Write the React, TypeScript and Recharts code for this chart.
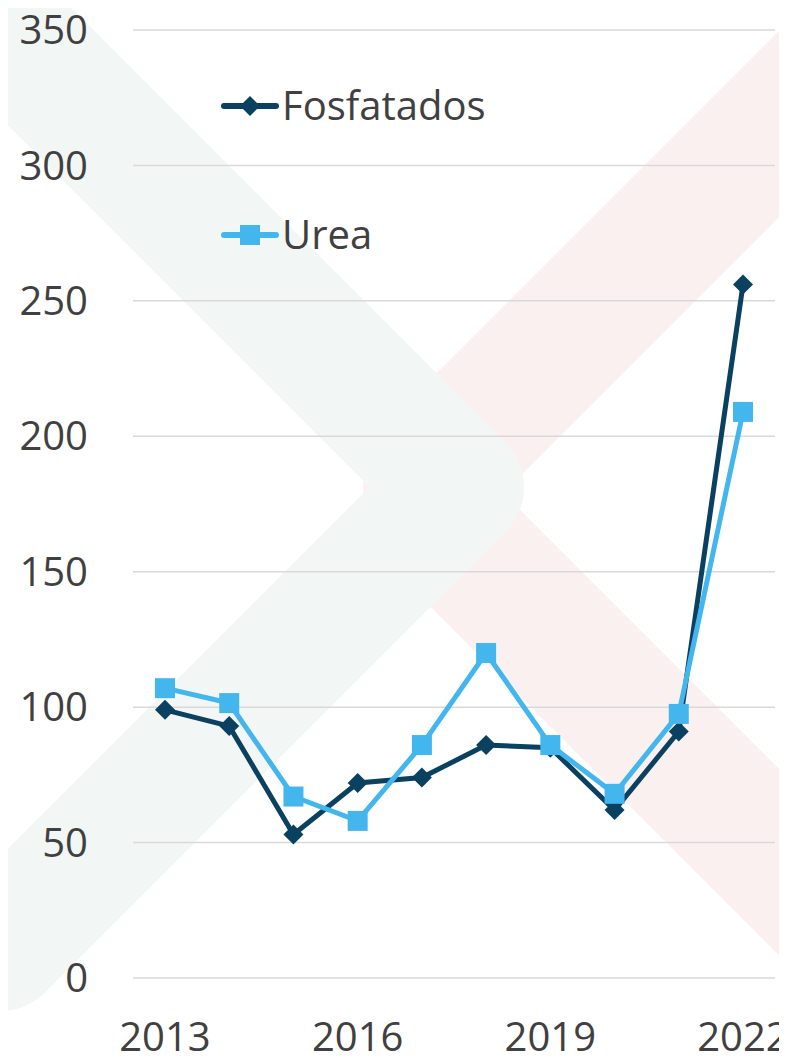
import { CartesianGrid, Legend, Line, LineChart, XAxis, YAxis } from 'recharts';

const years = ['2013', '2014', '2015', '2016', '2017', '2018', '2019', '2020', '2021', '2022'];
const fosfatados = [99, 93, 53, 72, 74, 86, 85, 62, 91, 256];
const urea = [107, 101.5, 67, 58, 86, 120, 86, 68, 97.5, 209];
const yTicks = [0, 50, 100, 150, 200, 250, 300, 350];

const data = years.map((year, i) => ({ year, fosfatados: fosfatados[i], urea: urea[i] }));

const COLORS = {
  fosfatados: '#0a4060',
  urea: '#43b6ee',
  text: '#404040',
  grid: '#d9d9d9',
};

const FONT = '"Open Sans", "Noto Sans", sans-serif';

const Diamond = ({ cx, cy, fill, size = 10 }: any) => (
  <path
    d={`M${cx},${cy - size} L${cx + size},${cy} L${cx},${cy + size} L${cx - size},${cy} Z`}
    fill={fill}
  />
);

const Square = ({ cx, cy, fill, size = 10 }: any) => (
  <rect x={cx - size} y={cy - size} width={size * 2} height={size * 2} fill={fill} />
);

const renderLegend = () => {
  const items = [
    { name: 'Fosfatados', color: COLORS.fosfatados, marker: 'diamond' },
    { name: 'Urea', color: COLORS.urea, marker: 'square' },
  ];
  return (
    <svg width={300} height={200}>
      {items.map((item, i) => {
        const y = 26 + i * 129;
        return (
          <g key={item.name}>
            <line x1={6} x2={58} y1={y} y2={y} stroke={item.color} strokeWidth={6} strokeLinecap="round" />
            {item.marker === 'diamond' ? (
              <Diamond cx={32} cy={y} fill={item.color} size={10} />
            ) : (
              <Square cx={32} cy={y} fill={item.color} size={10} />
            )}
            <text x={64} y={y + 14} fontSize={40} fill={COLORS.text} fontFamily={FONT}>
              {item.name}
            </text>
          </g>
        );
      })}
    </svg>
  );
};

// faint chevrons in the background, page coordinates
function Watermark() {
  return (
    <svg width={787} height={1060} style={{ position: 'absolute', left: 0, top: 0 }}>
      <polyline
        points="1000,-97 410,493 1000,1083"
        fill="none"
        stroke="#fbf0f0"
        strokeWidth={132}
        strokeLinejoin="bevel"
        strokeLinecap="round"
      />
      <polyline
        points="-150,-123 460,487 0,947"
        fill="none"
        stroke="#f2f6f5"
        strokeWidth={128}
        strokeLinejoin="round"
        strokeLinecap="round"
      />
    </svg>
  );
}

export default function App() {
  return (
    <div
      style={{
        position: 'relative',
        margin: -8,
        width: 787,
        height: 1060,
        overflow: 'hidden',
        background: '#ffffff',
        fontFamily: FONT,
      }}
    >
      <Watermark />
      <div style={{ position: 'absolute', left: 0, top: 0 }}>
        <LineChart width={787} height={1060} data={data} margin={{ top: 30, right: 12, left: 0, bottom: 0 }}>
          <CartesianGrid vertical={false} stroke={COLORS.grid} strokeWidth={1.5} />
          <XAxis
            dataKey="year"
            height={82}
            interval={2}
            padding={{ left: 32, right: 32 }}
            tickLine={false}
            axisLine={false}
            tickSize={0}
            tickMargin={45}
            tick={{ fontSize: 40, fill: COLORS.text, fontFamily: FONT }}
          />
          <YAxis
            width={133}
            domain={[0, 350]}
            ticks={yTicks}
            tickLine={false}
            axisLine={false}
            tickSize={0}
            tickMargin={45}
            tick={{ fontSize: 40, fill: COLORS.text, fontFamily: FONT }}
          />
          <Legend
            layout="vertical"
            align="center"
            verticalAlign="middle"
            content={renderLegend}
            wrapperStyle={{ left: 218, top: 80, width: 300, height: 200 }}
          />
          <Line
            dataKey="fosfatados"
            name="Fosfatados"
            stroke={COLORS.fosfatados}
            strokeWidth={5}
            dot={(p: any) => <Diamond key={`f-${p.index}`} cx={p.cx} cy={p.cy} fill={COLORS.fosfatados} size={10} />}
            activeDot={false}
            isAnimationActive={false}
          />
          <Line
            dataKey="urea"
            name="Urea"
            stroke={COLORS.urea}
            strokeWidth={5}
            dot={(p: any) => <Square key={`u-${p.index}`} cx={p.cx} cy={p.cy} fill={COLORS.urea} size={10} />}
            activeDot={false}
            isAnimationActive={false}
          />
        </LineChart>
      </div>
    </div>
  );
}
